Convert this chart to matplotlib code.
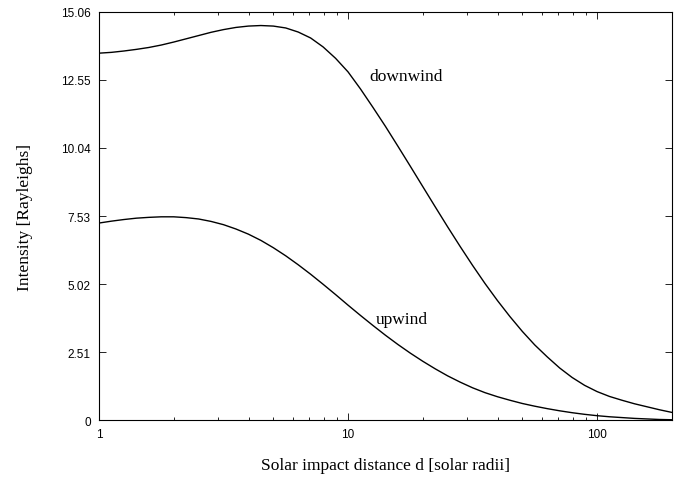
import matplotlib
matplotlib.use("Agg")
import matplotlib.pyplot as plt
from matplotlib.ticker import FixedLocator, LogLocator, NullFormatter

d = [1, 1.122, 1.259, 1.413, 1.585, 1.778, 1.995, 2.239, 2.512, 2.818,
     3.162, 3.548, 3.981, 4.467, 5.012, 5.623, 6.310, 7.079, 7.943, 8.913,
     10, 11.22, 12.59, 14.13, 15.85, 17.78, 19.95, 22.39, 25.12, 28.18,
     31.62, 35.48, 39.81, 44.67, 50.12, 56.23, 63.10, 70.79, 79.43, 89.13,
     100, 112.2, 125.9, 141.3, 158.5, 177.8, 200]

i_down = [13.54, 13.57, 13.62, 13.68, 13.75, 13.84, 13.95, 14.07, 14.19, 14.31,
          14.41, 14.49, 14.54, 14.56, 14.54, 14.47, 14.32, 14.10, 13.77, 13.35,
          12.85, 12.22, 11.54, 10.84, 10.11, 9.37, 8.62, 7.87, 7.13, 6.41,
          5.71, 5.04, 4.41, 3.82, 3.27, 2.77, 2.33, 1.92, 1.57, 1.28,
          1.05, 0.87, 0.73, 0.60, 0.49, 0.38, 0.28]

i_up = [7.27, 7.34, 7.40, 7.45, 7.48, 7.50, 7.50, 7.47, 7.42, 7.33,
        7.21, 7.05, 6.86, 6.63, 6.36, 6.06, 5.73, 5.38, 5.01, 4.63,
        4.24, 3.86, 3.49, 3.13, 2.79, 2.47, 2.17, 1.89, 1.63, 1.40,
        1.19, 1.01, 0.86, 0.73, 0.61, 0.51, 0.42, 0.34, 0.27, 0.21,
        0.16, 0.12, 0.09, 0.06, 0.04, 0.02, 0.01]

y_ticks = [0, 2.51, 5.02, 7.53, 10.04, 12.55, 15.06]
y_tick_labels = ["0", "2.51", "5.02", "7.53", "10.04", "12.55", "15.06"]
x_ticks = [1, 10, 100]
x_tick_labels = ["1", "10", "100"]

fig = plt.figure(figsize=(6.79, 4.81), dpi=100)
ax = fig.add_axes([0.1458, 0.1247, 0.8439, 0.8483])

ax.plot(d, i_down, color="black", lw=1.0)
ax.plot(d, i_up, color="black", lw=1.0)

ax.set_xscale("log")
ax.set_xlim(1, 200)
ax.set_ylim(0, 15.06)

ax.xaxis.set_major_locator(FixedLocator(x_ticks))
ax.set_xticklabels(x_tick_labels)
ax.xaxis.set_minor_locator(LogLocator(base=10, subs=range(2, 10)))
ax.xaxis.set_minor_formatter(NullFormatter())
ax.set_yticks(y_ticks)
ax.set_yticklabels(y_tick_labels)

ax.tick_params(which="both", direction="in", top=True, right=True,
               labelsize=8.5, width=0.6)
ax.tick_params(which="major", length=5, pad=6)
ax.tick_params(which="minor", length=2.5)
for lab in ax.get_xticklabels() + ax.get_yticklabels():
    lab.set_family("Liberation Sans")
for sp in ax.spines.values():
    sp.set_linewidth(0.8)

ax.set_xlabel("Solar impact distance d [solar radii]", family="Liberation Serif",
              fontsize=12.5, labelpad=12)
ax.set_ylabel("Intensity [Rayleighs]", family="Liberation Serif",
              fontsize=12.5, labelpad=20)

ax.text(17.1, 12.7, "downwind", family="Liberation Serif", fontsize=12.5,
        ha="center", va="center")
ax.text(16.5, 3.73, "upwind", family="Liberation Serif", fontsize=12.5,
        ha="center", va="center")

fig.savefig("out.png", dpi=100)
